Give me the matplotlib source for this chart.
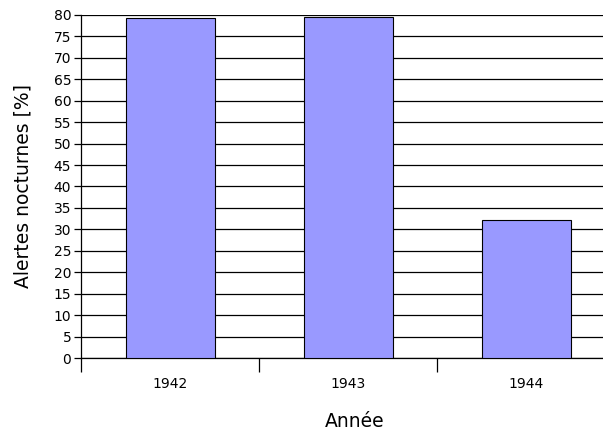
import matplotlib as mpl
mpl.use('Agg')
import matplotlib.pyplot as plt
import numpy as np

# data
annees = ['1942', '1943', '1944']
alertes = [79.2, 79.6, 32.3]

fig = plt.figure(figsize=(6.03, 4.30), dpi=100)
# right edge runs past the figure, as in the original
ax = fig.add_axes([81/603, 1 - 358/430, 534/603, 343/430])

x = np.arange(len(annees))
ax.bar(x, alertes, width=0.5, color='#9999ff', edgecolor='black', linewidth=0.8, zorder=3)

ax.set_xlim(-0.5, len(annees) - 0.5)
ax.set_ylim(0, 80)
ax.set_yticks(np.arange(0, 81, 5))
ax.yaxis.grid(True, color='black', linewidth=0.9)
ax.set_axisbelow(True)

# category ticks sit on the boundaries, labels in the middle
ax.set_xticks(np.arange(-0.5, len(annees), 1.0))
ax.set_xticklabels([])
ax.set_xticks(x, minor=True)
ax.set_xticklabels(annees, minor=True, fontsize=10)
ax.tick_params(axis='x', which='major', length=10, width=0.9, color='black')
ax.tick_params(axis='x', which='minor', length=0, pad=14)
ax.tick_params(axis='y', length=5, width=0.9, labelsize=10, pad=2)

for s in ['top', 'right']:
    ax.spines[s].set_visible(False)
ax.spines['left'].set_linewidth(0.9)
ax.spines['bottom'].set_linewidth(0.9)

ax.set_ylabel('Alertes nocturnes [%]', fontsize=13.5, labelpad=15)
ax.set_xlabel('Année', fontsize=13.5)
ax.xaxis.set_label_coords((355 - 81) / 534, -0.157)

fig.savefig('out.png', dpi=100)
